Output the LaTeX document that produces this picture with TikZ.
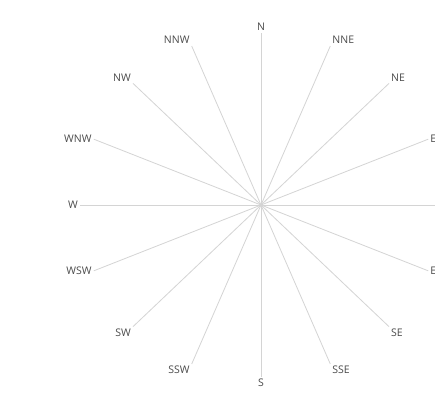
\documentclass[tikz,border=0pt]{standalone}
\usepackage{fontspec}
\setmainfont{Open Sans}
\definecolor{raycol}{HTML}{D4D4D4}
\definecolor{lblcol}{HTML}{4A4A4A}
\begin{document}
\begin{tikzpicture}[x=1pt,y=-1pt,
  lbl/.style={text=lblcol,font=\fontsize{10.5}{12}\selectfont,inner sep=2pt},
  ray/.style={draw=raycol,line width=0.8pt}]
\path[use as bounding box,clip] (0,0) rectangle (435,402);
\fill[white] (0,0) rectangle (435,402);
\coordinate (c) at (261,205);
\foreach \a/\t/\anc in {90/N/south, 67.5/NNE/south west, 45/NE/south west, 22.5/ENE/west,
  0/E/west, -22.5/ESE/west, -45/SE/north west, -67.5/SSE/north west, -90/S/north,
  -112.5/SSW/north east, -135/SW/north east, -157.5/WSW/east, 180/W/east,
  157.5/WNW/east, 135/NW/south east, 112.5/NNW/south east} {
  \node[lbl,anchor=\anc] (\t) at ({261+181*cos(\a)},{205-172*sin(\a)}) {\t};
  \draw[ray] (c) -- (\t.\anc);
}
\end{tikzpicture}
\end{document}
